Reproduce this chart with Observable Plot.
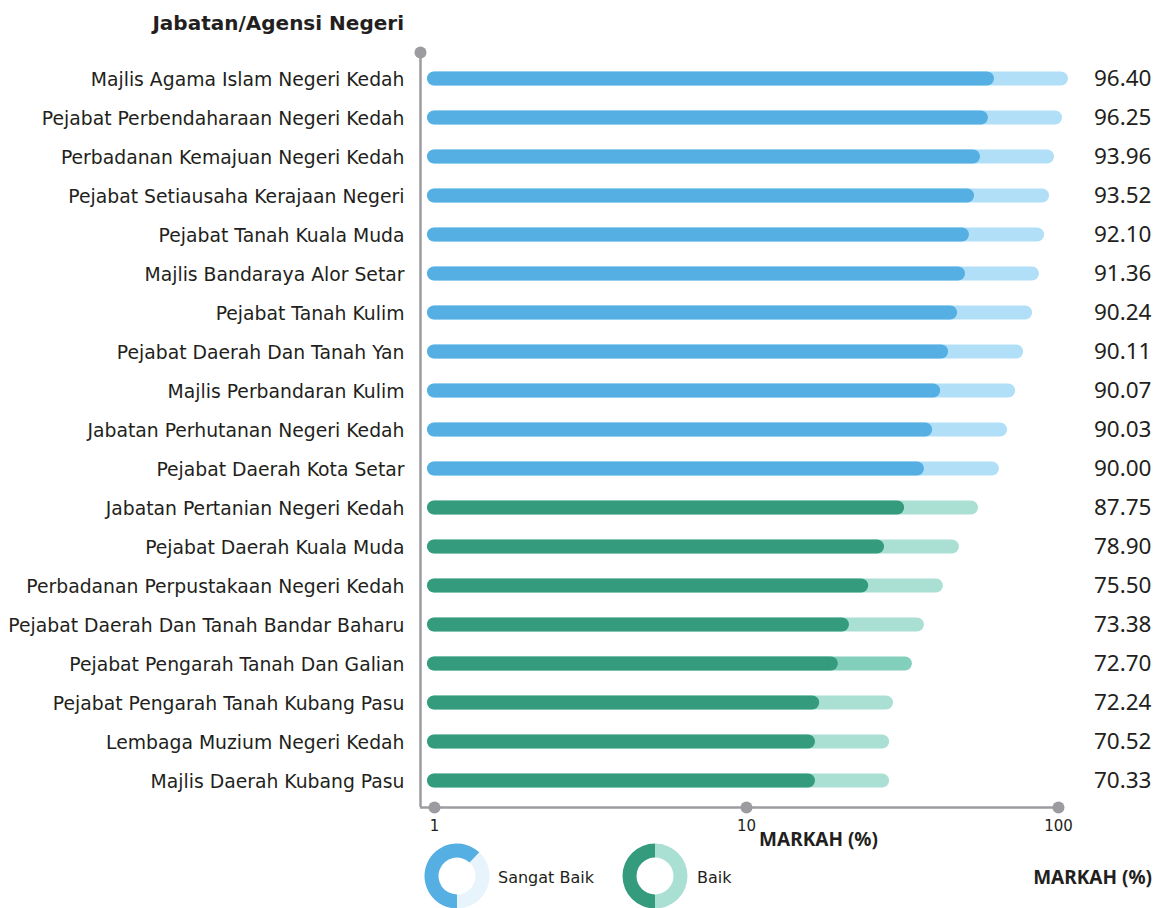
<!DOCTYPE html>
<html><head><meta charset="utf-8">
<script src="https://cdn.jsdelivr.net/npm/d3@7"></script>
<script src="https://cdn.jsdelivr.net/npm/@observablehq/plot@0.6"></script>
<style>
body{margin:0;background:#fff;}
#wrap{position:relative;width:1160px;height:908px;font-family:"DejaVu Sans";color:#231f20;overflow:hidden;}
#title{position:absolute;left:0;top:11px;width:404px;text-align:right;font-weight:bold;font-size:20px;line-height:24px;}
#chart{position:absolute;left:0;top:40px;}
.leg{position:absolute;white-space:nowrap;}
</style></head><body>
<div id="wrap"><div id="title">Jabatan/Agensi Negeri</div><div id="chart"></div><div id="legend"></div></div>
<script>
const organizations = [
  "Majlis Agama Islam Negeri Kedah",
  "Pejabat Perbendaharaan Negeri Kedah",
  "Perbadanan Kemajuan Negeri Kedah",
  "Pejabat Setiausaha Kerajaan Negeri",
  "Pejabat Tanah Kuala Muda",
  "Majlis Bandaraya Alor Setar",
  "Pejabat Tanah Kulim",
  "Pejabat Daerah Dan Tanah Yan",
  "Majlis Perbandaran Kulim",
  "Jabatan Perhutanan Negeri Kedah",
  "Pejabat Daerah Kota Setar",
  "Jabatan Pertanian Negeri Kedah",
  "Pejabat Daerah Kuala Muda",
  "Perbadanan Perpustakaan Negeri Kedah",
  "Pejabat Daerah Dan Tanah Bandar Baharu",
  "Pejabat Pengarah Tanah Dan Galian",
  "Pejabat Pengarah Tanah Kubang Pasu",
  "Lembaga Muzium Negeri Kedah",
  "Majlis Daerah Kubang Pasu"
];
const scores = [96.40, 96.25, 93.96, 93.52, 92.10, 91.36, 90.24, 90.11, 90.07, 90.03, 90.00, 87.75, 78.90, 75.50, 73.38, 72.70, 72.24, 70.52, 70.33];
// bar lengths as drawn (log axis units)
const barTotal = [102.2, 97.8, 92.2, 88.9, 85.7, 82.5, 78.4, 73.4, 69.2, 65.2, 61.4, 52.6, 45.7, 40.6, 35.3, 32.3, 28.1, 27.3, 27.3];
const barFill  = [59.2, 56.6, 53.4, 51.1, 49.2, 47.8, 45.1, 42.2, 39.8, 37.5, 35.3, 30.5, 26.3, 23.4, 20.3, 18.7, 16.3, 15.8, 15.8];
const ratings = ["Sangat Baik","Sangat Baik","Sangat Baik","Sangat Baik","Sangat Baik","Sangat Baik","Sangat Baik","Sangat Baik","Sangat Baik","Sangat Baik","Sangat Baik","Baik","Baik","Baik","Baik","Baik","Baik","Baik","Baik"];
const emphasized = ["Pejabat Pengarah Tanah Dan Galian"];
const xTicks = [1, 10, 100];
const legendItems = ["Sangat Baik", "Baik"];
const legendShare = [0.62, 0.5];
const xLabel = "MARKAH (%)";
const scoreLabel = "MARKAH (%)";

const grey = "#9c9ca0";
const dark = {"Sangat Baik": "#55afe3", "Baik": "#349b7c"};
const light = {"Sangat Baik": "#b0dff7", "Baik": "#a9e0d3"};
const lightEmph = {"Sangat Baik": "#8fd0f2", "Baik": "#82cfbb"};
const donutLight = {"Sangat Baik": "#e8f4fc", "Baik": "#a9e0d3"};

const data = organizations.map((org, i) => ({
  org, score: scores[i], total: barTotal[i], fill: barFill[i], rating: ratings[i]
}));
const last = organizations[organizations.length - 1];

const plot = Plot.plot({
  width: 1160,
  height: 820,
  marginLeft: 434,
  marginRight: 102,
  marginTop: 18.5,
  marginBottom: 60.5,
  style: {fontFamily: "DejaVu Sans", fontSize: "18.8px", color: "#231f20", background: "transparent", overflow: "visible"},
  x: {type: "log", domain: [1, 100]},
  y: {type: "point", domain: organizations, padding: 0.5},
  marks: [
    Plot.ruleX([1], {dx: -14, insetTop: -6.5, insetBottom: -7.5, stroke: grey, strokeWidth: 2.5}),
    Plot.dot([1], {x: d => d, frameAnchor: "top", dx: -14, dy: -6.5, r: 6, fill: grey}),
    Plot.ruleY([last], {y: d => d, dy: 27, x1: 1, x2: 100, insetLeft: -14, stroke: grey, strokeWidth: 2.5}),
    Plot.dot(xTicks, {x: d => d, frameAnchor: "bottom", dy: 7.5, r: 6, fill: grey}),
    Plot.ruleY(data, {y: "org", x1: 1, x2: "total", stroke: d => emphasized.includes(d.org) ? lightEmph[d.rating] : light[d.rating], strokeWidth: 14, strokeLinecap: "round"}),
    Plot.ruleY(data, {y: "org", x1: 1, x2: "fill", stroke: d => dark[d.rating], strokeWidth: 14, strokeLinecap: "round"}),
    Plot.text(data, {y: "org", text: d => d.score.toFixed(2), frameAnchor: "right", dx: 93, textAnchor: "end", fontSize: 22.5, fontFamily: "Noto Sans", fill: "#231f20"}),
    Plot.axisY({tickSize: 0, tickPadding: 30, label: null, fontSize: 18.8, dy: 1}),
    Plot.axisX({ticks: xTicks, tickFormat: d => String(d), tickSize: 0, tickPadding: 20, label: null, fontSize: 15}),
    Plot.text([xLabel], {frameAnchor: "bottom", dx: 72, dy: 45.5, fontWeight: "bold", fontSize: 19, fontFamily: "Noto Sans", fill: "#231f20"})
  ]
});
document.getElementById("chart").appendChild(plot);

// Legend
const legend = document.getElementById("legend");
const centersX = [456.5, 654.7];
const textX = [498, 697];
const cy = 876;
legendItems.forEach((name, i) => {
  const svg = d3.create("svg").attr("width", 70).attr("height", 70)
    .attr("class", "leg").style("left", (centersX[i] - 35) + "px").style("top", (cy - 35) + "px");
  const g = svg.append("g").attr("transform", "translate(35,35)");
  const arc = d3.arc().innerRadius(18.5).outerRadius(32.5);
  const split = Math.PI * 2 * (1 - legendShare[i]);
  g.append("path").attr("d", arc({startAngle: Math.PI - split, endAngle: Math.PI})).attr("fill", donutLight[name]);
  g.append("path").attr("d", arc({startAngle: Math.PI, endAngle: Math.PI * 3 - split})).attr("fill", dark[name]);
  legend.appendChild(svg.node());
  const t = document.createElement("div");
  t.className = "leg";
  t.textContent = name;
  t.style.left = textX[i] + "px";
  t.style.top = "868px";
  t.style.fontSize = "16px";
  t.style.lineHeight = "20px";
  legend.appendChild(t);
});
const m = document.createElement("div");
m.className = "leg";
m.textContent = scoreLabel;
m.style.right = "8px";
m.style.top = "865px";
m.style.fontSize = "19px";
m.style.lineHeight = "24px";
m.style.fontWeight = "bold";
m.style.fontFamily = "Noto Sans";
legend.appendChild(m);
</script>
</body></html>
